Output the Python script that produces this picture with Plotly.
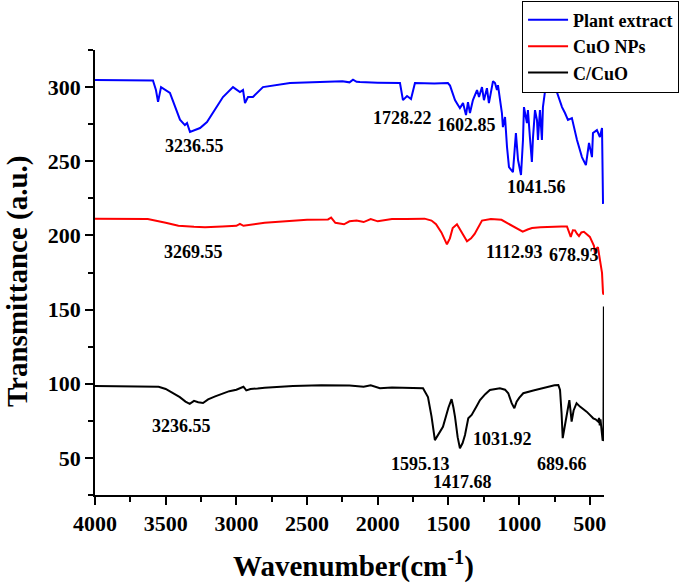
import plotly.graph_objects as go

# ---------------- data ----------------
plant_wn = [4000, 3800, 3600, 3590, 3569, 3554, 3533, 3470, 3399, 3364, 3349, 3328, 3257, 3208,
            3095, 3024, 2975, 2953, 2939, 2918, 2883, 2812, 2621, 2400, 2250, 2200, 2175, 2150,
            2126, 2000, 1843, 1822, 1793, 1765, 1737, 1600, 1504, 1489, 1454, 1433, 1419, 1397,
            1376, 1362, 1348, 1327, 1298, 1284, 1263, 1249, 1228, 1214, 1185, 1171, 1157, 1150,
            1122, 1115, 1100, 1086, 1072, 1044, 1037, 1023, 1008, 987, 973, 966, 945, 938, 924,
            910, 902, 888, 874, 867, 853, 839, 832, 818, 796, 761, 733, 711, 697, 676, 655, 627,
            591, 556, 528, 506, 485, 478, 450, 429, 414, 407, 401]
plant_t = [304.7, 304.5, 304.7, 304.5, 298, 290, 300, 296, 278, 274.4, 275.7, 269.7, 272.4, 276.4,
           293.3, 300, 296.6, 298, 289.2, 293.3, 293.3, 300, 302.7, 303.5, 304, 303.2, 305, 303.6,
           303.4, 303, 302.7, 291.2, 294, 292, 302.7, 302.5, 302.7, 301, 291.2, 287.9, 285.8, 289.2,
           281.1, 289.9, 282.5, 291.2, 298, 293.3, 300, 291.2, 299.3, 289.2, 304, 302.7, 298, 301.3,
           282.5, 273, 279.8, 259.6, 246.1, 242.7, 250.8, 269, 250.8, 240.7, 264.3, 286.5, 275.7, 284.5, 266.3,
           249.5, 266.3, 284.5, 277.8, 264.3, 284.5, 264.3, 286.5, 296.6, 302, 300, 296.6, 289.9, 286.5, 282.5, 277.8, 279.1,
           264.3, 252.8, 247.4, 262.3, 252.8, 269, 271, 266.3, 272.4, 221.8, 221.8]

cuo_wn = [4000, 3700, 3627, 3500, 3410, 3300, 3222, 3100, 3000, 2975, 2950, 2800, 2678, 2500, 2352,
          2330, 2300, 2239, 2200, 2150, 2100, 2050, 2000, 1950, 1900, 1800, 1669, 1620, 1588, 1550,
          1511, 1490, 1470, 1440, 1410, 1369, 1340, 1315, 1263, 1200, 1125, 1080, 1044, 975, 940,
          909, 850, 800, 700, 662, 635, 620, 605, 590, 577, 560, 542, 500, 485, 471, 464, 455, 443,
          436, 429, 420, 414, 407, 402]
cuo_t = [211.3, 211.3, 211, 208.5, 206.5, 205.8, 205.5, 206, 206.5, 207.8, 206.5, 208.5, 209.5, 210.5, 210.8,
         212, 208.5, 207.5, 209.5, 210, 209, 211, 209.5, 210.5, 211, 211, 211.3, 210, 207.5, 202,
         194, 198, 205, 207.5, 203, 196, 198, 201, 210, 211, 210.5, 208, 206, 202.5, 204,
         205, 205.5, 205.8, 206, 206, 199, 203.5, 203.4, 201, 199.6, 202, 202.4, 199, 195.6, 193, 188, 191, 192,
         187, 183.4, 178, 174.7, 161.2, 160]

ccuo_wn = [4000, 3800, 3600, 3550, 3500, 3450, 3400, 3360, 3330, 3300, 3270, 3236, 3200, 3150, 3100,
           3050, 3000, 2970, 2950, 2930, 2900, 2850, 2800, 2600, 2400, 2200, 2100, 2050, 2000, 1985,
           1900, 1800, 1680, 1645, 1620, 1596, 1570, 1539, 1500, 1478, 1465, 1454, 1435, 1419, 1400,
           1383, 1360, 1336, 1300, 1277, 1240, 1207, 1136, 1100, 1077, 1060, 1053, 1034, 1018, 1000,
           971, 900, 806, 750, 723, 711, 700, 692, 680, 664, 655, 645, 637, 629, 615, 594, 570, 545,
           523, 500, 476, 460, 441, 435, 430, 425, 418, 410, 404, 401]
ccuo_t = [98.5, 98.3, 98.5, 98, 96.5, 94, 91, 88, 86.5, 88.5, 87.5, 87, 89.5, 91.5, 93.5,
          95, 96, 97.5, 98, 95.5, 96.5, 96.8, 97.3, 98.5, 99, 98.8, 98, 99, 97.5, 97,
          97.5, 97.5, 97, 91, 78, 62, 66, 71, 84, 89.6, 84, 77.8, 64, 56.5, 60,
          65.5, 76.7, 79, 85, 89, 93, 95.8, 97, 96, 93.6, 89, 86.9, 83.5, 87.9, 90.5,
          93.6, 95.5, 98, 99, 99.2, 95.8, 80, 63.3, 70, 77.8, 84, 89, 82, 74.5, 82, 86.9, 84.6, 83,
          81.2, 79, 76.7, 76, 74.5, 77, 72, 76, 70, 62.1, 62, 152]

series_names = ["Plant extract", "CuO NPs", "C/CuO"]
series_colors = ["#0000ff", "#ff0000", "#000000"]

peak_labels = ["3236.55", "1728.22", "1602.85", "1041.56",
               "3269.55", "1112.93", "678.93",
               "3236.55", "1595.13", "1417.68", "1031.92", "689.66"]
peak_x = [3293, 1822, 1369, 874, 3300, 1030, 612, 3390, 1700, 1400, 1120, 700]
peak_y = [260.2, 279.1, 274.4, 232.6, 188.8, 188.8, 186.5, 71.5, 46, 34, 62.5, 46]

# ---------------- figure ----------------
FONT = "Liberation Serif, Times New Roman, serif"
fig = go.Figure()
for wn, t, name, col in zip([plant_wn, cuo_wn, ccuo_wn], [plant_t, cuo_t, ccuo_t],
                            series_names, series_colors):
    fig.add_trace(go.Scatter(x=wn, y=t, mode="lines", name=name,
                             line=dict(color=col, width=2)))

for txt, px, py in zip(peak_labels, peak_x, peak_y):
    fig.add_annotation(x=px, y=py, text=txt, showarrow=False,
                       font=dict(family=FONT, size=18, color="black", weight="bold"))

axis_common = dict(showline=True, linecolor="black", linewidth=1.5, showgrid=False,
                   zeroline=False, ticks="outside", tickcolor="black", tickwidth=1.5,
                   ticklen=8, mirror=False, automargin=False,
                   tickfont=dict(family=FONT, size=22, color="black", weight="bold"))

fig.update_xaxes(range=[4000, 400], tick0=0, dtick=500,
                 minor=dict(dtick=250, ticks="outside", ticklen=5, tickcolor="black", tickwidth=1.5),
                 **axis_common)
fig.update_yaxes(range=[25, 325], tick0=0, dtick=50,
                 minor=dict(dtick=25, ticks="outside", ticklen=5, tickcolor="black", tickwidth=1.5),
                 **axis_common)

fig.add_annotation(xref="paper", yref="paper", x=0.507, y=-0.157,
                   xanchor="center", yanchor="middle",
                   text="Wavenumber(cm<sup>-1</sup>)", showarrow=False,
                   font=dict(family=FONT, size=29, color="black", weight="bold"))
fig.add_annotation(xref="paper", yref="paper", x=-0.151, y=0.481, textangle=-90,
                   xanchor="center", yanchor="middle",
                   text="Transmittance (a.u.)", showarrow=False,
                   font=dict(family=FONT, size=29, color="black", weight="bold"))

fig.update_layout(
    width=685, height=584,
    margin=dict(l=95, r=81, t=50, b=89, autoexpand=False),
    plot_bgcolor="white", paper_bgcolor="white",
    legend=dict(x=0.839, y=1.111, xanchor="left", yanchor="top",
                bgcolor="white", bordercolor="black", borderwidth=1,
                font=dict(family=FONT, size=18, color="black", weight="bold"),
                tracegroupgap=0, itemwidth=40),
    showlegend=True,
)

fig.write_html("out.html", config={"displayModeBar": False},
               post_script="document.body.style.margin='0px';")
